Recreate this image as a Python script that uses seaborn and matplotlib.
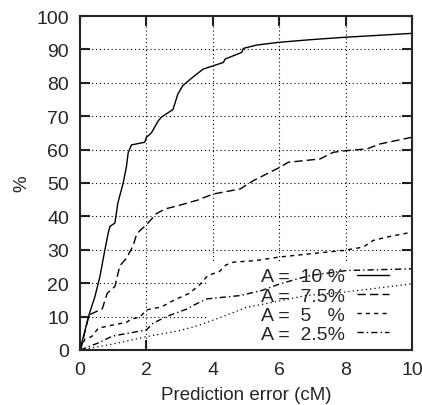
import matplotlib
matplotlib.use("Agg")
import matplotlib.pyplot as plt
from matplotlib.patches import Rectangle
import pandas as pd
import seaborn as sns

# curves (prediction error in cM vs cumulative %)
x_a10 = [0, 0.1, 0.28, 0.45, 0.6, 0.75, 0.85, 0.9, 1.05, 1.14, 1.3, 1.4, 1.45, 1.55, 1.95, 2.0,
         2.15, 2.35, 2.45, 2.8, 2.95, 3.1, 3.4, 3.71, 4.32, 4.37, 4.87, 4.92, 5.32, 5.97, 6.93, 7.93, 10]
y_a10 = [0, 4, 10.8, 16, 22, 30, 35, 37, 38, 44, 50, 55, 59, 61.4, 62.2, 63.7,
         65, 68.5, 69.7, 72, 76.7, 79.2, 81.7, 84.1, 86.1, 87.1, 89.1, 90.3, 91.3, 92.1, 92.9, 93.6, 94.8]

x_a75 = [0, 0.05, 0.27, 0.67, 0.82, 1.05, 1.2, 1.4, 1.6, 1.7, 1.8, 2.0, 2.3, 2.55, 2.95, 3.55,
         4.01, 4.82, 5.22, 6.02, 6.27, 7.23, 7.63, 8.03, 8.64, 9.04, 10]
y_a75 = [0, 1.3, 10.5, 12.3, 17, 19, 25.2, 27.5, 31.2, 34.5, 35.7, 37.5, 40.8, 42.2, 43.2, 44.9,
         46.7, 48.2, 50.7, 54.7, 56.2, 57.2, 59.2, 59.7, 60.2, 61.7, 63.7]

x_a5 = [0, 0.15, 0.35, 0.55, 0.9, 1.4, 1.55, 1.8, 2.0, 2.45, 2.85, 3.3, 3.6, 3.85, 4.2, 4.4,
        4.62, 5.32, 5.97, 6.93, 7.93, 8.53, 8.83, 9.24, 10]
y_a5 = [0, 3.3, 4, 6.5, 7.3, 8.3, 9.3, 9.8, 12, 12.9, 15, 17, 19.5, 22.3, 23.5, 25.5,
        26.3, 26.8, 27.8, 28.8, 29.8, 30.8, 32.8, 33.8, 35.3]

x_a25 = [0, 0.6, 0.9, 1.05, 2.0, 2.2, 2.6, 3.2, 3.5, 3.82, 4.82, 5.47, 6.02, 6.63, 6.93, 8.03, 10]
y_a25 = [0, 2.3, 3.8, 4.3, 6, 8, 10, 12.2, 13.8, 15.3, 16.3, 17.8, 19.8, 21.5, 22.3, 23.8, 24.3]

x_base = [0, 1.0, 2.0, 3.0, 3.55, 4.3, 5.02, 5.82, 6.8, 7.93, 10]
y_base = [0, 1.8, 4, 5.8, 7.3, 10, 12.8, 14.3, 16.3, 17.3, 19.8]

labels = ["A =  10 %", "A =  7.5%", "A =  5   %", "A =  2.5%"]

sns.set_style("ticks")
plt.rcParams["font.family"] = ["Liberation Sans", "DejaVu Sans"]

fig = plt.figure(figsize=(4.22, 4.06), dpi=100)
ax = fig.add_axes([80 / 422, 1 - 351 / 406, 332 / 422, 334 / 406])

# dotted grid, cleared where the key sits
for v in range(10, 100, 10):
    ax.axhline(v, color="black", lw=0.8, ls=(0, (1, 2.5)), zorder=0.8)
for v in range(2, 10, 2):
    ax.axvline(v, color="black", lw=0.8, ls=(0, (1, 2.5)), zorder=0.8)
ax.add_patch(Rectangle((0.385, 0), 0.615, 0.264, transform=ax.transAxes,
                       facecolor="white", edgecolor="none", zorder=1))

styles = ["-", (0, (6, 3)), (0, (3, 3)), (0, (4.5, 2.2, 1, 2.2))]
series = [(x_a10, y_a10), (x_a75, y_a75), (x_a5, y_a5), (x_a25, y_a25)]
for (xs, ys), lab, st in zip(series, labels, styles):
    df = pd.DataFrame({"x": xs, "y": ys})
    sns.lineplot(data=df, x="x", y="y", ax=ax, color="black", lw=1.0,
                 estimator=None, sort=False, label=lab, linestyle=st, zorder=2)
df = pd.DataFrame({"x": x_base, "y": y_base})
sns.lineplot(data=df, x="x", y="y", ax=ax, color="black", lw=0.9,
             estimator=None, sort=False, linestyle=(0, (1, 2.5)), zorder=2)

ax.set_xlim(0, 10)
ax.set_ylim(0, 100)
ax.set_xticks(range(0, 11, 2))
ax.set_yticks(range(0, 101, 10))
ax.tick_params(direction="in", length=7, width=1.5, top=True, right=True,
               labelsize=14, pad=8)
for s in ax.spines.values():
    s.set_linewidth(1.5)
    s.set_zorder(3)
ax.set_xlabel("Prediction error (cM)", fontsize=13.5, labelpad=6)
ax.set_ylabel("%", fontsize=13.5, labelpad=4)

handles, labs = ax.get_legend_handles_labels()
ax.legend(handles[:4], labs[:4], loc="lower right", bbox_to_anchor=(0.931, 0.021),
          frameon=False, markerfirst=False, fontsize=14, handlelength=1.65,
          handletextpad=0.6, labelspacing=0.08, borderpad=0, borderaxespad=0)

fig.savefig("out.png", dpi=100)
